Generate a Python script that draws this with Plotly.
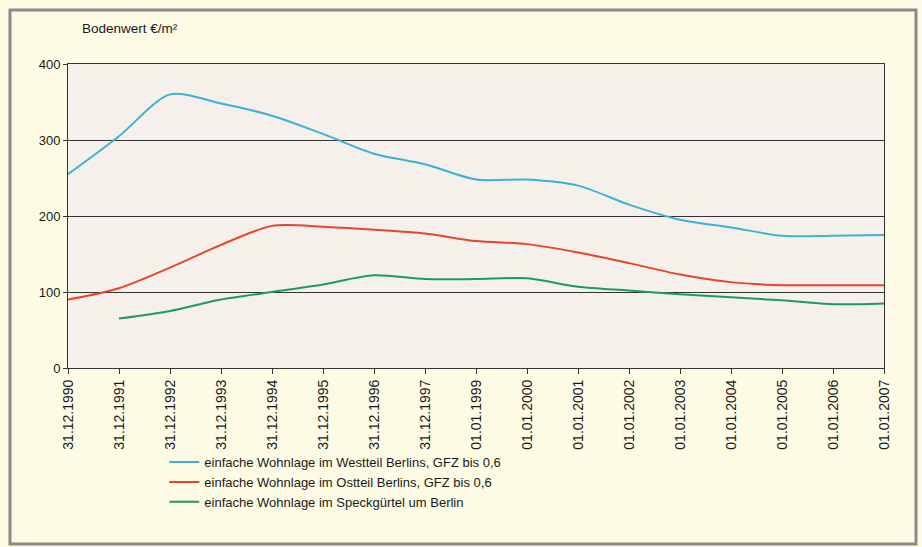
import plotly.graph_objects as go

# Stichtage (gleichmäßig abgetragen)
stichtage = [
    "31.12.1990", "31.12.1991", "31.12.1992", "31.12.1993", "31.12.1994",
    "31.12.1995", "31.12.1996", "31.12.1997", "01.01.1999", "01.01.2000",
    "01.01.2001", "01.01.2002", "01.01.2003", "01.01.2004", "01.01.2005",
    "01.01.2006", "01.01.2007",
]

# Bodenwerte in €/m²
west = [255, 305, 360, 348, 332, 308, 282, 268, 248, 248, 240, 215, 195, 185, 174, 174, 175]
ost = [90, 105, 132, 162, 187, 186, 182, 177, 167, 163, 152, 138, 123, 113, 109, 109, 109]
speckguertel = [None, 65, 75, 90, 100, 110, 122, 117, 117, 118, 107, 102, 97, 93, 89, 84, 85]

namen = [
    "einfache Wohnlage im Westteil Berlins, GFZ bis 0,6",
    "einfache Wohnlage im Ostteil Berlins, GFZ bis 0,6",
    "einfache Wohnlage im Speckgürtel um Berlin",
]
farben = ["#3ab2d4", "#e8452c", "#1f9a5e"]
y_ticks = [0, 100, 200, 300, 400]

fig = go.Figure()
for werte, name, farbe in zip([west, ost, speckguertel], namen, farben):
    fig.add_trace(go.Scatter(
        x=stichtage, y=werte, name=name, mode="lines",
        line=dict(color=farbe, width=2, shape="spline", smoothing=0.8),
        connectgaps=False,
    ))

font_main = "Liberation Sans, Arial, sans-serif"

# Rahmen um die gesamte Grafik (Papierkoordinaten)
rahmen = dict(x0=-0.0711, x1=1.0392, y0=-0.579, y1=1.1776)

fig.update_layout(
    width=922, height=547,
    margin=dict(l=68, r=38, t=64, b=179),
    paper_bgcolor="#fdfbe4",
    plot_bgcolor="#f6f0ea",
    font=dict(family=font_main, size=12, color="#1a1a1a"),
    showlegend=True,
    legend=dict(
        x=0.118, y=-0.26, xanchor="left", yanchor="top",
        bgcolor="rgba(0,0,0,0)", font=dict(size=13, color="#1a1a1a"),
        tracegroupgap=0, itemwidth=30,
    ),
    xaxis=dict(
        type="category", range=[0, 16], tickangle=-90,
        showgrid=False, showline=True, linecolor="#333333", linewidth=1,
        mirror=True, ticks="outside", ticklen=5, tickcolor="#333333",
        tickfont=dict(size=14, color="#1a1a1a"),
    ),
    yaxis=dict(
        range=[0, 400], tickvals=y_ticks, showgrid=True, gridcolor="#333333",
        gridwidth=1, showline=True, linecolor="#333333", linewidth=1,
        mirror=True, ticks="outside", ticklen=4, tickcolor="#333333",
        tickfont=dict(size=13, color="#1a1a1a"), zeroline=False,
    ),
    shapes=[
        dict(type="rect", xref="paper", yref="paper", **rahmen,
             fillcolor="rgba(0,0,0,0)", line=dict(color="#8a8a8a", width=3),
             layer="above"),
    ],
    annotations=[
        dict(text="Bodenwert €/m²", xref="paper", yref="paper",
             x=0.015, y=1.118, xanchor="left", yanchor="middle",
             showarrow=False, font=dict(size=13.5, color="#1a1a1a")),
    ],
)

fig.write_html("out.html")
